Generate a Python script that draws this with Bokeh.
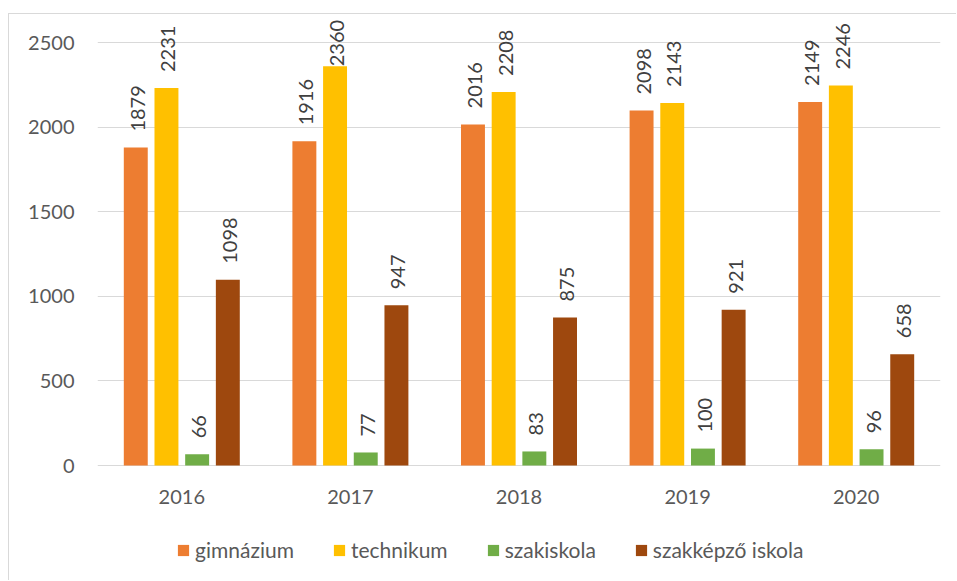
import math
from bokeh.plotting import figure
from bokeh.models import (FactorRange, Range1d, ColumnDataSource, Legend, LegendItem,
                          LabelSet, FixedTicker)
from bokeh.transform import dodge
from bokeh.core.properties import value
from bokeh.embed import file_html
from bokeh.resources import INLINE

years = ["2016", "2017", "2018", "2019", "2020"]
gimnazium = [1879, 1916, 2016, 2098, 2149]
technikum = [2231, 2360, 2208, 2143, 2246]
szakiskola = [66, 77, 83, 100, 96]
szakkepzo = [1098, 947, 875, 921, 658]
series_names = ["gimnázium", "technikum", "szakiskola", "szakképző iskola"]
series_values = [gimnazium, technikum, szakiskola, szakkepzo]
colors = ["#ED7D31", "#FFC000", "#70AD47", "#9E480E"]
y_ticks = [0, 500, 1000, 1500, 2000, 2500]

FONT = "Lato"
FIG_W = 948
FIG_H = 567
Y_MAX = 2648
PLOT_H = 448          # pixels between value 0 and Y_MAX
BOTTOM_H = 109        # pixels of the area below value 0 (category labels, legend)
ppu = PLOT_H / Y_MAX
Y_MIN = -BOTTOM_H / ppu
LABEL_GAP = 16
LABEL_LEN = 48
CAT_LABEL_DY = 31     # category labels below the baseline, pixels

data = {"year": years}
for i, vals in enumerate(series_values):
    data[f"s{i}"] = vals
    data[f"t{i}"] = [str(v) for v in vals]
    # label anchor: a fixed gap above the bar, kept inside the plot area
    data[f"ly{i}"] = [min(v + LABEL_GAP / ppu, max(v, Y_MAX - (LABEL_LEN + 1) / ppu)) for v in vals]
src = ColumnDataSource(data)
cat_src = ColumnDataSource({"year": years, "y": [-CAT_LABEL_DY / ppu] * len(years)})

p = figure(x_range=FactorRange(*years, range_padding=0), y_range=Range1d(Y_MIN, Y_MAX),
           width=FIG_W, height=FIG_H, output_backend="svg", toolbar_location=None,
           min_border_left=88, min_border_right=17, min_border_top=3,
           min_border_bottom=FIG_H - 3 - PLOT_H - BOTTOM_H,
           margin=(13, 0, 0, 8),
           styles={"border-top": "1px solid #d9d9d9", "border-left": "1px solid #d9d9d9"})
p.outline_line_color = None
p.background_fill_color = "white"
p.border_fill_color = "white"

p.xgrid.grid_line_color = None
p.ygrid.grid_line_color = "#d9d9d9"
p.ygrid.grid_line_width = 1
p.yaxis.ticker = FixedTicker(ticks=y_ticks)

p.yaxis.axis_line_color = None
p.yaxis.major_tick_line_color = None
p.yaxis.minor_tick_line_color = None
p.yaxis.major_tick_out = 0
p.yaxis.major_tick_in = 0
p.yaxis.major_label_standoff = 23
p.yaxis.major_label_text_font = FONT
p.yaxis.major_label_text_font_size = "20px"
p.yaxis.major_label_text_color = "#595959"

p.xaxis.visible = False

# category labels under the baseline
p.text(x="year", y="y", text="year", source=cat_src, text_align="center",
       text_baseline="middle", text_font=value(FONT), text_font_size="20px",
       text_color="#595959")

step = 0.182
bar_w = 0.142
offsets = [-1.5 * step, -0.5 * step, 0.5 * step, 1.5 * step]

items = []
for i, name in enumerate(series_names):
    r = p.vbar(x=dodge("year", offsets[i], range=p.x_range), top=f"s{i}", width=bar_w,
               bottom=0, source=src, fill_color=colors[i], line_color=None)
    items.append(LegendItem(label=name, renderers=[r]))
    labels = LabelSet(x=dodge("year", offsets[i], range=p.x_range), y=f"ly{i}", text=f"t{i}",
                      source=src, angle=math.pi / 2, text_align="left", text_baseline="middle",
                      x_offset=2, y_offset=0, text_font=value(FONT), text_font_size="20px",
                      text_color="#404040")
    p.add_layout(labels)

legend = Legend(items=items, orientation="horizontal", location=(79, 12),
                glyph_width=14, glyph_height=14, label_standoff=5, spacing=38,
                padding=0, margin=0, border_line_color=None, background_fill_alpha=0,
                label_text_font=FONT, label_text_font_size="21px", label_text_color="#595959")
p.add_layout(legend, "center")

open("out.html", "w").write(file_html(p, INLINE))
